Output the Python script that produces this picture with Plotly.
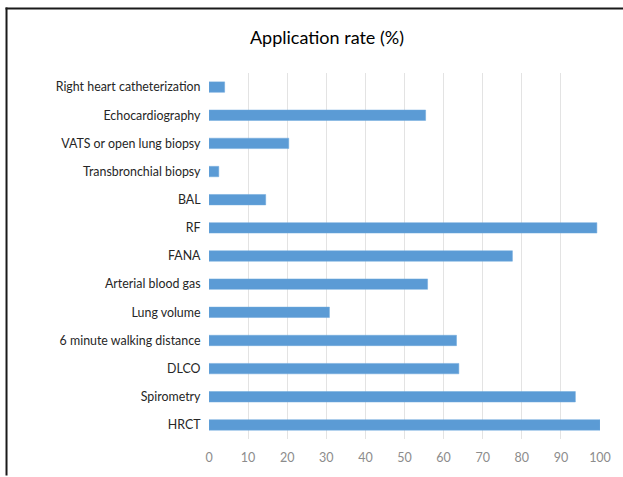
import plotly.graph_objects as go

categories = ["HRCT", "Spirometry", "DLCO", "6 minute walking distance", "Lung volume",
              "Arterial blood gas", "FANA", "RF", "BAL", "Transbronchial biopsy",
              "VATS or open lung biopsy", "Echocardiography", "Right heart catheterization"]
values = [100, 93.7, 63.9, 63.3, 30.8, 55.9, 77.6, 99.2, 14.5, 2.5, 20.4, 55.4, 4.0]
x_ticks = list(range(0, 101, 10))

W, H = 623, 477
L, R, T, B = 209, 22, 73, 32

fig = go.Figure(go.Bar(
    y=categories, x=values, orientation="h",
    marker=dict(color="#5B9BD5", line=dict(color="#6FA8DC", width=0.5)),
    width=0.37,
))

pw = W - L - R
ph = H - T - B
def px_to_paper_x(px):
    return (px - L) / pw
def py_to_paper_y(py):
    return (H - B - py) / ph

fig.update_layout(
    width=W, height=H,
    margin=dict(l=L, r=R, t=T, b=B),
    paper_bgcolor="white", plot_bgcolor="white",
    font=dict(family="Lato, Open Sans, sans-serif", size=12, color="#262626"),
    title=dict(text="Application rate (%)", x=(327) / W, xanchor="center",
               y=1 - 38 / H, yanchor="middle",
               font=dict(size=18, color="#000000")),
    showlegend=False,
    xaxis=dict(range=[0, 100], tickvals=x_ticks, showgrid=True, gridcolor="#e3e3e3",
               gridwidth=1, zeroline=False, showline=False,
               ticks="outside", ticklen=7, tickcolor="rgba(0,0,0,0)",
               tickfont=dict(color="#8c8c8c", size=12.5), fixedrange=True),
    yaxis=dict(categoryorder="array", categoryarray=categories, showgrid=False,
               zeroline=False, showline=False, ticks="outside", ticklen=5,
               tickcolor="rgba(0,0,0,0)", tickfont=dict(size=12.4, color="#262626"),
               range=[-0.5, len(categories) - 0.5], fixedrange=True),
    shapes=[
        dict(type="line", xref="paper", yref="paper",
             x0=px_to_paper_x(5), x1=px_to_paper_x(W + 5),
             y0=py_to_paper_y(7.5), y1=py_to_paper_y(7.5),
             line=dict(color="#1a1a1a", width=2)),
        dict(type="line", xref="paper", yref="paper",
             x0=px_to_paper_x(6), x1=px_to_paper_x(6),
             y0=py_to_paper_y(6.5), y1=py_to_paper_y(H + 5),
             line=dict(color="#1a1a1a", width=2)),
    ],
)

fig.write_html("out.html", config={"displayModeBar": False},
               post_script="document.body.style.margin='0';document.body.style.overflow='hidden';")
